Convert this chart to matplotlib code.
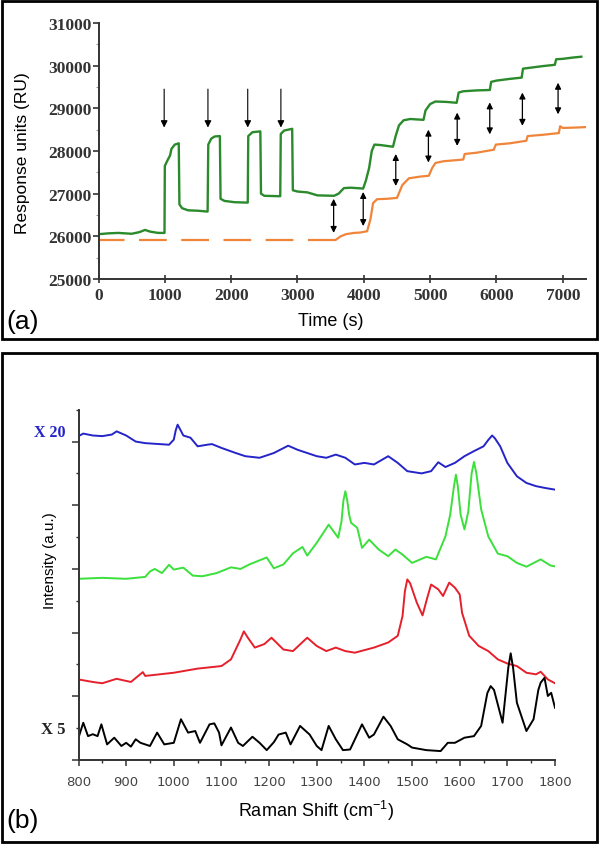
import matplotlib
matplotlib.use('Agg')
import matplotlib.pyplot as plt
from matplotlib.patches import Rectangle

# ---------------- Panel (a): SPR sensorgram ----------------
green_t = [0, 150, 300, 500, 620, 700, 780, 900, 995,
           1000, 1040, 1080, 1100, 1150, 1210,
           1220, 1260, 1350, 1500, 1645,
           1655, 1700, 1750, 1830,
           1840, 1900, 2050, 2250,
           2258, 2320, 2440,
           2450, 2500, 2740,
           2748, 2800, 2920,
           2930, 3000, 3150, 3300, 3550, 3620, 3700, 3800, 3990,
           4030, 4080, 4120, 4160, 4250, 4440,
           4480, 4530, 4600, 4700, 4900,
           4930, 5000, 5080, 5250, 5400,
           5430, 5500, 5700, 5900,
           5920, 6000, 6200, 6380,
           6400, 6500, 6700, 6880,
           6900, 7000, 7150, 7280]
green_ru = [26050, 26070, 26080, 26060, 26100, 26150, 26110, 26080, 26080,
            27650, 27780, 27900, 28050, 28150, 28180,
            26750, 26660, 26610, 26600, 26580,
            28150, 28290, 28340, 28350,
            26880, 26830, 26800, 26790,
            28350, 28440, 28460,
            27000, 26950, 26940,
            28400, 28480, 28520,
            27080, 27050, 27030, 26960, 26950, 27000, 27130, 27140, 27120,
            27300, 27600, 28000, 28150, 28140, 28100,
            28350, 28600, 28720, 28750, 28730,
            28950, 29100, 29160, 29150, 29130,
            29370, 29400, 29420, 29430,
            29620, 29650, 29690, 29720,
            29930, 29950, 29990, 30020,
            30150, 30160, 30190, 30210]

orange_dash_t = [0, 3580]
orange_dash_ru = [25920, 25920]
orange_t = [3580, 3650, 3730, 3850, 3950, 4050, 4100, 4140, 4200, 4350, 4500,
            4540, 4580, 4680, 4850, 4980, 5030, 5080, 5200, 5350, 5500,
            5520, 5700, 5960, 5990, 6200, 6450, 6470, 6700, 6940, 6960,
            7000, 7200, 7340]
orange_ru = [25920, 26000, 26050, 26080, 26090, 26120, 26400, 26780, 26870, 26880, 26900,
             27050, 27200, 27360, 27400, 27420, 27600, 27720, 27760, 27780, 27800,
             27930, 27960, 28030, 28150, 28180, 28240, 28350, 28380, 28420, 28580,
             28540, 28550, 28560]

inject_t = [990, 1650, 2250, 2750]
inject_top = 29450
inject_tip = 28550
gap_t = [3545, 3991, 4482, 4974, 5408, 5899, 6391, 6929]
gap_top = [26880, 27040, 27930, 28500, 28900, 29140, 29370, 29600]
gap_bot = [26080, 26240, 27180, 27730, 28120, 28390, 28590, 28860]

xticks_a = [0, 1000, 2000, 3000, 4000, 5000, 6000, 7000]
yticks_a = [25000, 26000, 27000, 28000, 29000, 30000, 31000]

# ---------------- Panel (b): Raman spectra ----------------
blue_x = [800, 810, 830, 850, 870, 880, 900, 920, 940, 960, 990, 1000, 1004, 1008, 1012, 1020,
          1035, 1050, 1070, 1080, 1100, 1130, 1150, 1180, 1200, 1210, 1240, 1260, 1300, 1320,
          1340, 1360, 1380, 1400, 1420, 1450, 1470, 1490, 1520, 1540, 1555, 1570, 1590,
          1610, 1630, 1650, 1660, 1668, 1674, 1685, 1700, 1720, 1740, 1760, 1780, 1800]
blue_y = [10.17, 10.25, 10.19, 10.17, 10.22, 10.32, 10.19, 10.0, 9.95, 9.93, 9.90, 10.06, 10.35,
          10.53, 10.42, 10.19, 10.12, 9.85, 9.90, 9.92, 9.80, 9.64, 9.54, 9.49, 9.59, 9.64,
          9.87, 9.74, 9.54, 9.49, 9.59, 9.49, 9.28, 9.33, 9.28, 9.54, 9.33, 9.07, 9.00, 9.07,
          9.35, 9.20, 9.33, 9.54, 9.70, 9.85, 10.05, 10.19, 10.10, 9.85, 9.33, 8.91, 8.70,
          8.60, 8.54, 8.49]

green_x = [800, 850, 900, 940, 950, 960, 975, 990, 1000, 1020, 1040, 1060, 1090, 1120, 1140,
           1160, 1195, 1210, 1230, 1250, 1270, 1280, 1300, 1325, 1345, 1352, 1356, 1360, 1364,
           1368, 1372, 1385, 1395, 1410, 1430, 1450, 1465, 1480, 1500, 1530, 1550, 1570, 1580,
           1588, 1592, 1596, 1602, 1610, 1618, 1625, 1630, 1635, 1645, 1660, 1680, 1700, 1720,
           1740, 1770, 1790, 1800]
green_y = [5.69, 5.72, 5.69, 5.75, 5.92, 6.00, 5.87, 6.13, 5.98, 6.04, 5.79, 5.77, 5.87, 6.05,
           6.00, 6.15, 6.36, 6.02, 6.14, 6.49, 6.69, 6.42, 6.82, 7.39, 6.98, 7.50, 8.15, 8.44,
           8.15, 7.70, 7.45, 7.29, 6.66, 6.92, 6.61, 6.40, 6.61, 6.45, 6.19, 6.38, 6.30, 7.02,
           7.70, 8.60, 8.96, 8.60, 7.70, 7.24, 7.80, 9.00, 9.36, 9.00, 7.87, 7.02, 6.48, 6.40,
           6.19, 6.07, 6.30, 6.11, 6.08]

red_x = [800, 830, 850, 880, 910, 935, 940, 1000, 1050, 1100, 1120, 1140, 1147, 1155, 1170,
         1190, 1205, 1230, 1250, 1280, 1300, 1320, 1340, 1360, 1380, 1420, 1450, 1470, 1480,
         1485, 1490, 1496, 1510, 1522, 1532, 1540, 1555, 1565, 1578, 1590, 1600, 1605, 1620,
         1640, 1660, 1680, 1700, 1720, 1740, 1760, 1770, 1785, 1800]
red_y = [2.53, 2.45, 2.41, 2.55, 2.45, 2.76, 2.64, 2.74, 2.87, 2.95, 3.16, 3.79, 4.04, 3.85,
         3.53, 3.64, 3.84, 3.47, 3.42, 3.84, 3.58, 3.42, 3.53, 3.42, 3.37, 3.53, 3.69, 3.90,
         4.52, 5.30, 5.67, 5.55, 4.94, 4.54, 5.10, 5.51, 5.36, 5.15, 5.57, 5.41, 5.20, 4.62,
         3.90, 3.58, 3.42, 3.16, 3.03, 2.95, 2.74, 2.69, 2.77, 2.53, 2.41]

black_x = [800, 810, 820, 830, 840, 848, 860, 875, 890, 900, 910, 920, 930, 950, 965, 980,
           1000, 1015, 1030, 1045, 1055, 1075, 1085, 1095, 1100, 1120, 1135, 1145, 1165,
           1180, 1195, 1210, 1220, 1235, 1245, 1265, 1285, 1300, 1310, 1325, 1340, 1355,
           1370, 1395, 1410, 1420, 1440, 1455, 1470, 1490, 1500, 1530, 1560, 1575, 1590,
           1610, 1630, 1645, 1658, 1665, 1672, 1690, 1702, 1707, 1712, 1720, 1740, 1755, 1765,
           1770, 1778, 1785, 1792, 1800]
black_y = [0.70, 1.17, 0.75, 0.81, 0.75, 1.12, 0.49, 0.70, 0.44, 0.54, 0.42, 0.65, 0.54, 0.44,
           0.86, 0.49, 0.54, 1.28, 0.86, 0.91, 0.54, 1.12, 1.15, 0.86, 0.46, 1.02, 0.54, 0.44,
           0.73, 0.54, 0.31, 0.56, 0.80, 0.86, 0.49, 1.07, 0.80, 0.44, 0.31, 1.07, 0.65, 0.31,
           0.33, 1.12, 0.70, 0.80, 1.36, 1.07, 0.65, 0.49, 0.39, 0.31, 0.28, 0.54, 0.54,
           0.70, 0.75, 1.07, 2.10, 2.32, 2.20, 1.17, 2.90, 3.35, 2.90, 1.80, 0.91, 1.28, 2.20,
           2.43, 2.58, 2.01, 2.11, 1.64]

xticks_b = [800, 900, 1000, 1100, 1200, 1300, 1400, 1500, 1600, 1700, 1800]

# ---------------- Figure ----------------
W, H = 600, 845
fig = plt.figure(figsize=(W / 100, H / 100), dpi=100)

def fx(px):
    return px / W

def fy(py):
    return 1 - py / H

# panel frames
for (x0, y0, x1, y1) in [(2, 2, 597, 340), (2, 354, 597, 843)]:
    fig.add_artist(Rectangle((fx(x0), fy(y1)), fx(x1) - fx(x0), fy(y0) - fy(y1),
                             transform=fig.transFigure, fill=False,
                             edgecolor='black', linewidth=2.0))

serif = ['Liberation Serif', 'DejaVu Serif']
sans = ['Liberation Sans', 'DejaVu Sans']

# ---- axes (a)
axa = fig.add_axes([fx(98.5), fy(280), fx(586) - fx(98.5), fy(24) - fy(280)])
axa.plot(green_t, green_ru, color='#2b8a2b', lw=1.7, solid_joinstyle='round')
axa.plot(orange_dash_t, orange_dash_ru, color='#f0853a', lw=1.6,
         linestyle=(1, (12.5, 6.5)))
axa.plot(orange_t, orange_ru, color='#f0853a', lw=1.6, solid_joinstyle='round')
for t in inject_t:
    axa.annotate('', xy=(t, inject_tip), xytext=(t, inject_top),
                 arrowprops=dict(arrowstyle='-|>', color='black', lw=0.8,
                                 mutation_scale=10, shrinkA=0, shrinkB=0))
for t, top, bot in zip(gap_t, gap_top, gap_bot):
    axa.annotate('', xy=(t, bot), xytext=(t, top),
                 arrowprops=dict(arrowstyle='<|-|>', color='black', lw=0.9,
                                 mutation_scale=9, shrinkA=0, shrinkB=0))
axa.set_xlim(0, 7350)
axa.set_ylim(25000, 31000)
axa.set_xticks(xticks_a)
axa.set_yticks(yticks_a)
axa.set_yticks(range(25500, 31000, 1000), minor=True)
for s in ['top', 'right']:
    axa.spines[s].set_visible(False)
for s in ['left', 'bottom']:
    axa.spines[s].set_color('#333333')
    axa.spines[s].set_linewidth(1.4)
axa.tick_params(axis='x', direction='inout', length=6, width=1.2, color='#333333', pad=3)
axa.tick_params(axis='y', direction='out', length=4, width=1.2, color='#333333', pad=1)
axa.tick_params(axis='y', which='minor', direction='out', length=2, width=0.8, color='#999999')
for lab in axa.get_xticklabels() + axa.get_yticklabels():
    lab.set_family(serif)
    lab.set_fontsize(12.5)
    lab.set_fontweight('bold')
    lab.set_color('#333333')
fig.text(fx(331), fy(321), 'Time (s)', family=sans, fontsize=13, ha='center', va='center')
fig.text(fx(23), fy(153), 'Response units (RU)', family=sans, fontsize=12.5,
         rotation=90, ha='center', va='center')
fig.text(fx(23), fy(322), '(a)', family=sans, fontsize=19, ha='center', va='center')

# ---- axes (b)
axb = fig.add_axes([fx(78.5), fy(761), fx(555) - fx(78.5), fy(410.7) - fy(761)])
axb.plot(blue_x, blue_y, color='#2424c8', lw=1.4, solid_joinstyle='round')
axb.plot(green_x, green_y, color='#3be03b', lw=1.4, solid_joinstyle='round')
axb.plot(red_x, red_y, color='#e5202b', lw=1.4, solid_joinstyle='round')
axb.plot(black_x, black_y, color='black', lw=1.4, solid_joinstyle='round')
axb.set_xlim(800, 1800)
axb.set_ylim(0, 11)
axb.set_xticks(xticks_b)
axb.set_xticks(range(850, 1800, 100), minor=True)
axb.set_yticks(range(0, 12, 2))
axb.set_yticks(range(1, 12, 2), minor=True)
axb.set_yticklabels([])
for s in ['top', 'right']:
    axb.spines[s].set_visible(False)
for s in ['left', 'bottom']:
    axb.spines[s].set_color('#333333')
    axb.spines[s].set_linewidth(1.4)
axb.tick_params(axis='x', which='major', direction='out', length=4, width=1.1,
                color='#333333', pad=7, labelsize=9.5, labelcolor='#444444')
axb.tick_params(axis='x', which='minor', direction='out', length=2.5, width=1.0, color='#333333')
axb.tick_params(axis='y', which='major', direction='out', length=5, width=1.1, color='#333333')
axb.tick_params(axis='y', which='minor', direction='out', length=2.5, width=1.0, color='#333333')
for lab in axb.get_xticklabels():
    lab.set_family(['DejaVu Sans'])
fig.text(fx(316), fy(811), 'Raman Shift (cm$^{\\mathregular{-1}}$)', family=sans, fontsize=13,
         ha='center', va='center')
fig.text(fx(50), fy(561), 'Intensity (a.u.)', family=sans, fontsize=11, rotation=90,
         ha='center', va='center')
fig.text(fx(23), fy(821), '(b)', family=sans, fontsize=19, ha='center', va='center')
fig.text(fx(50), fy(433), 'X 20', family=serif, fontsize=11.5, fontweight='bold',
         color='#2424c8', ha='center', va='center')
fig.text(fx(53), fy(730), 'X 5', family=serif, fontsize=12, fontweight='bold',
         color='#222222', ha='center', va='center')

fig.savefig('out.png', dpi=100)
